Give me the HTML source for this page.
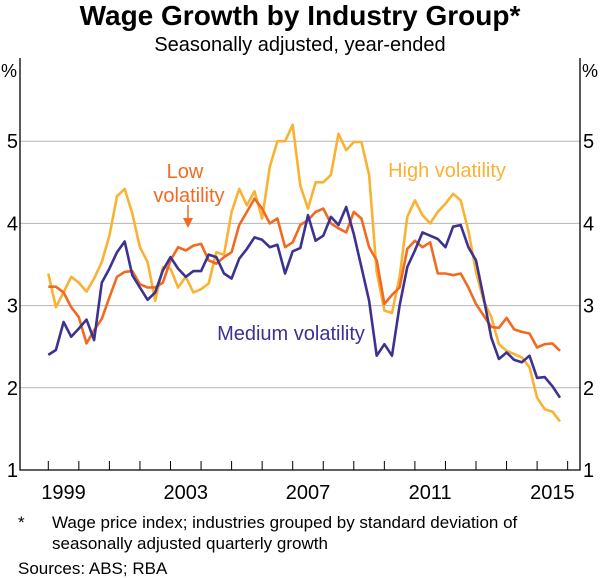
<!DOCTYPE html>
<html><head><meta charset="utf-8"><style>
body{margin:0;background:#fff;font-family:"Liberation Sans",Arial,sans-serif}
svg{display:block}
text{font-family:"Liberation Sans",Arial,sans-serif}
</style></head><body>
<svg id="chart" width="600" height="578" viewBox="0 0 600 578" xmlns="http://www.w3.org/2000/svg">
<text x="300" y="25" text-anchor="middle" font-size="28" font-weight="bold">Wage Growth by Industry Group*</text>
<text x="300" y="51" text-anchor="middle" font-size="20">Seasonally adjusted, year-ended</text>
<g id="grid"></g>
<g id="axes"></g>
<g id="series"></g>
<text x="185" y="178" text-anchor="middle" font-size="20" fill="#F26A21">Low</text>
<text x="189" y="202" text-anchor="middle" font-size="20" fill="#F26A21">volatility</text>
<line x1="188" y1="205" x2="188" y2="220" stroke="#F26A21" stroke-width="1.5"/>
<polygon points="183,218 193,218 188,228" fill="#F26A21"/>
<text x="447" y="177" text-anchor="middle" font-size="20" fill="#F9B233">High volatility</text>
<text x="291" y="340" text-anchor="middle" font-size="20" fill="#3C3291">Medium volatility</text>
<text x="18" y="528" font-size="17">*</text>
<text x="52" y="528" font-size="17">Wage price index; industries grouped by standard deviation of</text>
<text x="52" y="549" font-size="17">seasonally adjusted quarterly growth</text>
<text x="18" y="574" font-size="17">Sources:   ABS; RBA</text>
</svg>
<script>
const yTicks=[1,2,3,4,5];
const xLabels=[1999,2003,2007,2011,2015];
const startYear=1999;
const high=[3.39,2.98,3.16,3.35,3.28,3.17,3.33,3.53,3.85,4.33,4.42,4.12,3.71,3.53,3.06,3.47,3.45,3.22,3.35,3.16,3.20,3.27,3.65,3.62,4.14,4.42,4.22,4.39,4.06,4.69,5.0,5.0,5.2,4.46,4.18,4.5,4.5,4.59,5.09,4.89,4.99,4.99,4.59,3.41,2.94,2.91,3.35,4.08,4.28,4.10,4.0,4.14,4.24,4.36,4.28,3.91,3.41,3.06,2.86,2.53,2.45,2.41,2.37,2.25,1.88,1.74,1.71,1.59];
const low=[3.23,3.23,3.16,2.98,2.86,2.54,2.70,2.84,3.10,3.35,3.41,3.42,3.26,3.22,3.22,3.28,3.55,3.71,3.67,3.73,3.75,3.55,3.51,3.59,3.65,3.98,4.14,4.30,4.18,4.0,4.06,3.71,3.77,3.98,4.04,4.14,4.18,4.0,3.94,3.89,4.14,4.06,3.71,3.55,3.02,3.13,3.22,3.69,3.79,3.71,3.77,3.39,3.39,3.37,3.39,3.22,3.02,2.88,2.74,2.73,2.85,2.71,2.68,2.66,2.49,2.53,2.54,2.45];
const medium=[2.40,2.46,2.80,2.62,2.72,2.83,2.58,3.28,3.45,3.65,3.78,3.37,3.22,3.07,3.16,3.43,3.59,3.45,3.35,3.42,3.42,3.62,3.59,3.39,3.33,3.57,3.69,3.83,3.80,3.71,3.74,3.39,3.66,3.70,4.10,3.79,3.85,4.08,3.98,4.2,3.87,3.47,3.06,2.39,2.53,2.39,3.0,3.47,3.67,3.89,3.85,3.81,3.71,3.96,3.98,3.71,3.55,3.10,2.61,2.35,2.43,2.34,2.31,2.39,2.12,2.13,2.02,1.88];
const NS="http://www.w3.org/2000/svg";
const L=20,R=580,T=58,B=470;
function x(t){return 48.3+(t-startYear)*30.55;}
function y(v){return B-(v-1)*82.2;}
function mk(tag,attrs,parent){const e=document.createElementNS(NS,tag);for(const k in attrs)e.setAttribute(k,attrs[k]);parent.appendChild(e);return e;}
const grid=document.getElementById('grid'),axes=document.getElementById('axes'),ser=document.getElementById('series');
yTicks.forEach(v=>{
  if(v>1){const g=mk('line',{x1:L,x2:R,y1:y(v),y2:y(v),stroke:'#b5b5b5','stroke-width':1},grid);
  
  }
  const a=mk('text',{x:18,y:y(v)+7,'text-anchor':'end','font-size':20},axes);a.textContent=v;
  
  
  const b=mk('text',{x:583,y:y(v)+7,'font-size':20},axes);b.textContent=v;
  
  
});
const pl=mk('text',{x:1,y:77,'font-size':18},axes);pl.textContent='%';


const pr=mk('text',{x:582,y:77,'font-size':18},axes);pr.textContent='%';


const frame=mk('path',{d:`M${L},${T}V${B}H${R}V${T}`,fill:'none',stroke:'#000','stroke-width':1.3},axes);


for(let yr=1999;yr<=2016;yr++){
  const tk=mk('line',{x1:x(yr),x2:x(yr),y1:B,y2:B-9,stroke:'#000','stroke-width':1},axes);
  
  
}
xLabels.forEach(yr=>{
  const t=mk('text',{x:x(yr+0.5),y:499,'text-anchor':'middle','font-size':20},axes);t.textContent=yr;
  
  
});
function line(data,color,name){
  const d=data.map((v,i)=>(i?'L':'M')+x(startYear+i*0.25).toFixed(1)+','+y(v).toFixed(1)).join('');
  const p=mk('path',{d:d,fill:'none',stroke:color,'stroke-width':2.6,'stroke-linejoin':'round'},ser);
  
  
}
line(high,'#F9B233','high-volatility-line');
line(low,'#F26A21','low-volatility-line');
line(medium,'#3C3291','medium-volatility-line');
</script>
</body></html>
